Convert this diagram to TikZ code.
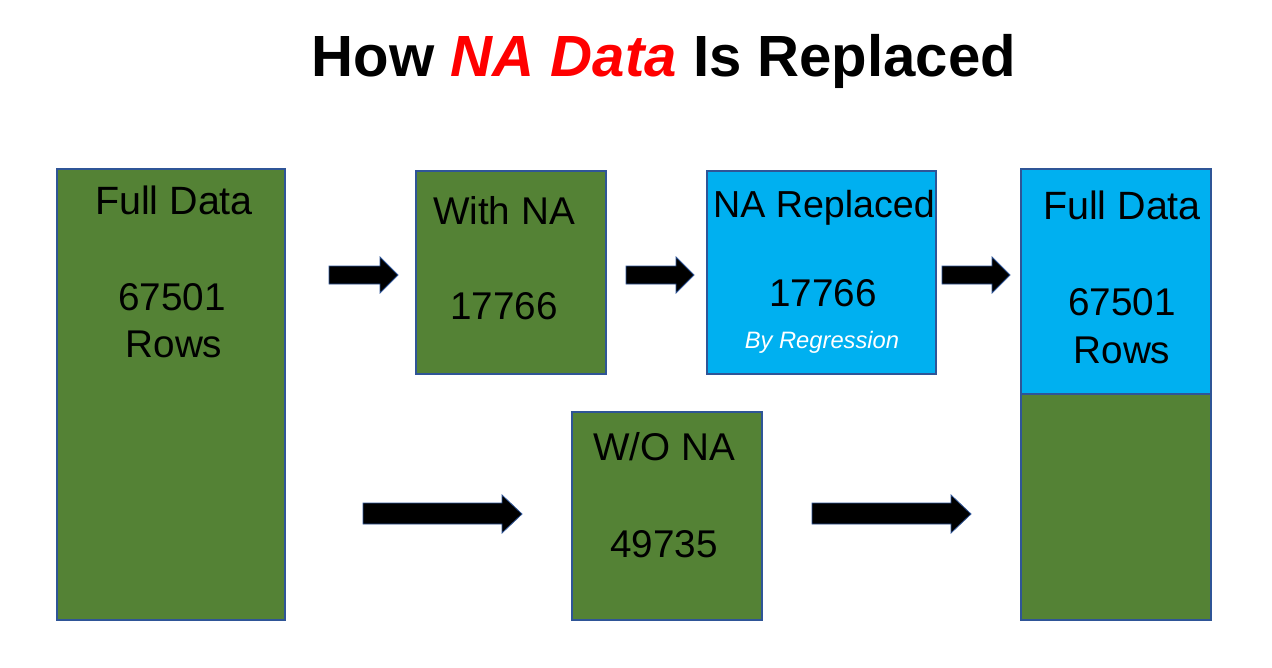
\documentclass[tikz,border=0pt]{standalone}
\usepackage{fontspec}
\setmainfont{Liberation Sans}
\definecolor{boxgreen}{HTML}{548235}
\definecolor{boxblue}{HTML}{00B0F0}
\definecolor{edgeblue}{HTML}{2F5597}
\definecolor{titlered}{HTML}{FF0000}
\tikzset{
  blk/.style={draw=edgeblue, line width=0.8pt},
  gbox/.style={blk, fill=boxgreen},
  bbox/.style={blk, fill=boxblue},
  txt/.style={anchor=base, inner sep=0pt, font=\fontsize{29}{35}\selectfont},
  small/.style={anchor=base, inner sep=0pt, text=white, font=\fontsize{17.8}{21}\selectfont\itshape},
  barrow/.style={fill=black, draw=edgeblue, line width=0.6pt, line join=miter},
}
\begin{document}
\begin{tikzpicture}[x=0.75pt,y=-0.75pt]
\useasboundingbox (0,0) rectangle (1272,668);
% title
\node[anchor=base, inner sep=0pt, font=\fontsize{43.6}{50}\selectfont\bfseries] (title) at (664,76)
  {How \textcolor{titlered}{\itshape NA Data} Is Replaced};
% boxes
\draw[gbox] (57,169) rectangle (285,620);
\draw[gbox] (416,171) rectangle (606,374);
\draw[bbox] (707,171) rectangle (936,374);
\draw[bbox] (1021,169) rectangle (1211,394);
\draw[gbox] (1021,394) rectangle (1211,620);
\draw[gbox] (572,412) rectangle (762,620);
% texts
\node[txt, font=\fontsize{29.6}{35}\selectfont] (fd1) at (174,214) {Full Data};
\node[txt] (fd1n) at (172,310) {67501};
\node[txt] (fd1r) at (174,357) {Rows};
\node[txt] (wna) at (504,224) {With NA};
\node[txt] (wnan) at (504,319) {17766};
\node[txt, font=\fontsize{28.2}{35}\selectfont] (nar) at (824,217) {NA Replaced};
\node[txt] (narn) at (823,306) {17766};
\node[small] (reg) at (822,348) {By Regression};
\node[txt, font=\fontsize{29.6}{35}\selectfont] (fd2) at (1122,219) {Full Data};
\node[txt] (fd2n) at (1122,315) {67501};
\node[txt] (fd2r) at (1122,363) {Rows};
\node[txt] (wo) at (664,460) {W/O NA};
\node[txt] (won) at (664,557) {49735};
% block arrows
\foreach \xa/\xb/\xt in {329/380/398, 626/676/694, 942/992/1010} {
  \draw[barrow] (\xa,266) -- (\xb,266) -- (\xb,257) -- (\xt,275) -- (\xb,293) -- (\xb,284) -- (\xa,284) -- cycle;
}
\foreach \xa/\xb/\xt in {363/502/522, 812/951/971} {
  \draw[barrow] (\xa,503) -- (\xb,503) -- (\xb,495) -- (\xt,514) -- (\xb,533) -- (\xb,524) -- (\xa,524) -- cycle;
}
\end{tikzpicture}
\end{document}
